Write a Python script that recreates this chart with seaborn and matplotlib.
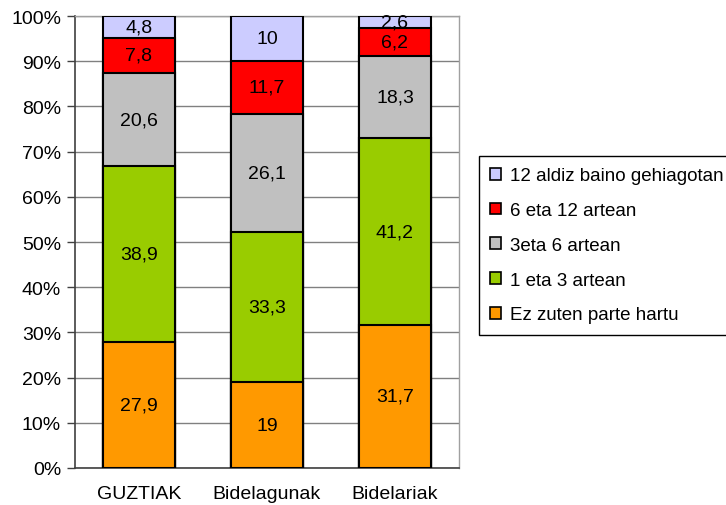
"""
Stacked percentage bars: how often people took part (GUZTIAK / Bidelagunak / Bidelariak).
"""

import numpy as np
import pandas as pd
import seaborn as sns
import matplotlib.pyplot as plt
from matplotlib.patches import Patch
from matplotlib.ticker import FixedLocator, PercentFormatter

# ------------------------------------------------ DATA ------------------------------------------------ #

groups = ['GUZTIAK', 'Bidelagunak', 'Bidelariak']
# bottom -> top
series = ['Ez zuten parte hartu', '1 eta 3 artean', '3eta 6 artean', '6 eta 12 artean',
          '12 aldiz baino gehiagotan']
ez_parte = [27.9, 19, 31.7]
bat_hiru = [38.9, 33.3, 41.2]
hiru_sei = [20.6, 26.1, 18.3]
sei_hamabi = [7.8, 11.7, 6.2]
hamabi_gehiago = [4.8, 10, 2.6]
labels = [['27,9', '19', '31,7'], ['38,9', '33,3', '41,2'], ['20,6', '26,1', '18,3'],
          ['7,8', '11,7', '6,2'], ['4,8', '10', '2,6']]
colors = ['#FF9900', '#99CC00', '#C0C0C0', '#FF0000', '#CCCCFF']

# ------------------------------------------------ PLOT ------------------------------------------------ #

values = np.array([ez_parte, bat_hiru, hiru_sei, sei_hamabi, hamabi_gehiago])
cum = values.cumsum(axis=0)

sns.set_style('white')
plt.rcParams['font.family'] = ['Liberation Sans', 'DejaVu Sans']
plt.rcParams['font.size'] = 14
plt.rcParams['text.color'] = 'black'
plt.rcParams['xtick.color'] = 'black'
plt.rcParams['ytick.color'] = 'black'

fig = plt.figure(figsize=(7.26, 5.06), dpi=100)
ax = fig.add_axes([75 / 726, 37 / 506, 384 / 726, 452 / 506])

# draw cumulative bars from the top series down so lower ones overlay
for i in reversed(range(len(series))):
    df = pd.DataFrame({'group': groups, 'value': cum[i]})
    sns.barplot(data=df, x='group', y='value', color=colors[i], width=0.57,
                edgecolor='black', linewidth=1.5, saturation=1, ax=ax, zorder=3)

for i in range(len(series)):
    for j in range(len(groups)):
        ax.text(j, cum[i, j] - values[i, j] / 2, labels[i][j], ha='center', va='center',
                fontsize=14, color='black', zorder=5)

ax.set_ylim(0, 100)
ax.set_xlim(-0.5, 2.5)
ax.yaxis.set_major_locator(FixedLocator(np.arange(0, 101, 10)))
ax.yaxis.set_major_formatter(PercentFormatter(decimals=0))
ax.set_xticks(range(len(groups)))
ax.set_xticklabels(groups)
ax.xaxis.set_minor_locator(FixedLocator([-0.5, 0.5, 1.5, 2.5]))
ax.tick_params(axis='x', which='major', length=0, pad=12, labelsize=14)
ax.tick_params(axis='x', which='minor', length=5, width=1, color='#404040', direction='out')
ax.tick_params(axis='y', length=6, width=1, color='#404040', direction='out', pad=4, left=True,
               labelsize=14)
ax.set_xlabel('')
ax.set_ylabel('')
ax.grid(axis='y', color='#808080', linewidth=1, zorder=0)
ax.set_axisbelow(True)
for side in ['left', 'bottom']:
    ax.spines[side].set_color('#404040')
    ax.spines[side].set_linewidth(1.2)
for side in ['top', 'right']:
    ax.spines[side].set_color('#A0A0A0')
    ax.spines[side].set_linewidth(1)

handles = [Patch(facecolor=colors[i], edgecolor='black', linewidth=1.2, label=series[i])
           for i in reversed(range(len(series)))]
leg = fig.legend(handles=handles, loc='upper left', bbox_to_anchor=(479 / 726, 349 / 506),
                 frameon=True, fancybox=False, edgecolor='black', framealpha=1,
                 handlelength=0.6, handleheight=0.6, handletextpad=0.45,
                 labelspacing=0.95, borderpad=0.6, fontsize=13.5, borderaxespad=0)
leg.get_frame().set_linewidth(1)

plt.savefig('out.png', dpi=100)
